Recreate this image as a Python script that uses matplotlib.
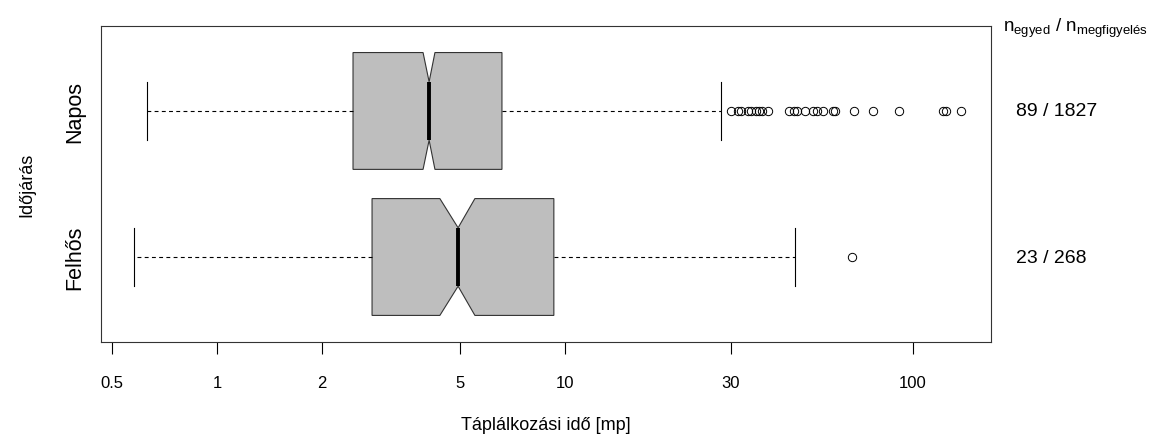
import matplotlib
matplotlib.use("Agg")
import matplotlib.pyplot as plt
import numpy as np

plt.rcParams['font.family'] = ['Liberation Sans', 'DejaVu Sans']
plt.rcParams['mathtext.fontset'] = 'custom'
plt.rcParams['mathtext.rm'] = 'Liberation Sans'
plt.rcParams['mathtext.it'] = 'Liberation Sans'

# groups, bottom to top
groups = ["Felhős", "Napos"]
counts = ["23 / 268", "89 / 1827"]

# feeding time summary per group [s]
q1 = [2.79, 2.46]
med = [4.93, 4.07]
q3 = [9.29, 6.59]
ci_lo = [4.37, 3.91]
ci_hi = [5.51, 4.23]
whis_lo = [0.577, 0.629]
whis_hi = [45.8, 28.1]

felhos_out = [66.7]
napos_out = [29.9, 31.4, 32.0, 33.5, 34.2, 35.4, 36.1, 36.8, 38.4,
             44.1, 45.6, 46.3, 48.9, 51.7, 52.9, 55.2, 58.8, 59.7,
             67.7, 76.6, 91.3, 122.2, 124.0, 137.4]
outliers = [felhos_out, napos_out]

xticks = [0.5, 1, 2, 5, 10, 30, 100]
xticklabels = ["0.5", "1", "2", "5", "10", "30", "100"]

stats = []
for i in range(len(groups)):
    stats.append(dict(med=med[i], q1=q1[i], q3=q3[i], cilo=ci_lo[i], cihi=ci_hi[i],
                      whislo=whis_lo[i], whishi=whis_hi[i], fliers=outliers[i]))

fig = plt.figure(figsize=(11.69, 4.35), dpi=100)
ax = fig.add_axes([0.0861, 0.2115, 0.7616, 0.7265])

ax.bxp(stats, positions=[1, 2], widths=0.8, orientation='horizontal',
       shownotches=True, patch_artist=True,
       boxprops=dict(facecolor='#BEBEBE', edgecolor='#333333', linewidth=0.8),
       medianprops=dict(color='black', linewidth=2.8, solid_capstyle='butt'),
       whiskerprops=dict(color='black', linewidth=0.8, linestyle=(0, (3.5, 3))),
       capprops=dict(color='black', linewidth=0.8),
       flierprops=dict(marker='o', markerfacecolor='none', markeredgecolor='black',
                       markersize=6.0, markeredgewidth=0.7))

ax.set_xscale('log')
ax.set_xlim(0.4632, 167.5)
ax.set_ylim(0.418, 2.582)
ax.set_xticks(xticks)
ax.set_xticklabels(xticklabels, fontsize=12)
ax.xaxis.set_minor_locator(matplotlib.ticker.NullLocator())
ax.tick_params(axis='x', length=8.5, width=0.8, pad=15)
ax.set_yticks([1, 2])
ax.set_yticklabels(groups, rotation=90, va='center', fontsize=15.5)
ax.tick_params(axis='y', length=0, pad=11)
for s in ax.spines.values():
    s.set_linewidth(0.8)
    s.set_color('#333333')

ax.set_xlabel("Táplálkozási idő [mp]", fontsize=13, labelpad=19)
ax.set_ylabel("Időjárás", fontsize=13, labelpad=21)

# n labels on the right
for pos, txt in zip([1, 2], counts):
    ax.text(1.028, (pos - 0.418) / (2.582 - 0.418), txt, transform=ax.transAxes,
            ha='left', va='center', fontsize=14)
fig.text(0.858, 0.908, r'$\mathregular{n_{egyed}\ /\ n_{megfigyelés}}$',
         ha='left', va='bottom', fontsize=13.5)

fig.savefig("out.png", dpi=100)
